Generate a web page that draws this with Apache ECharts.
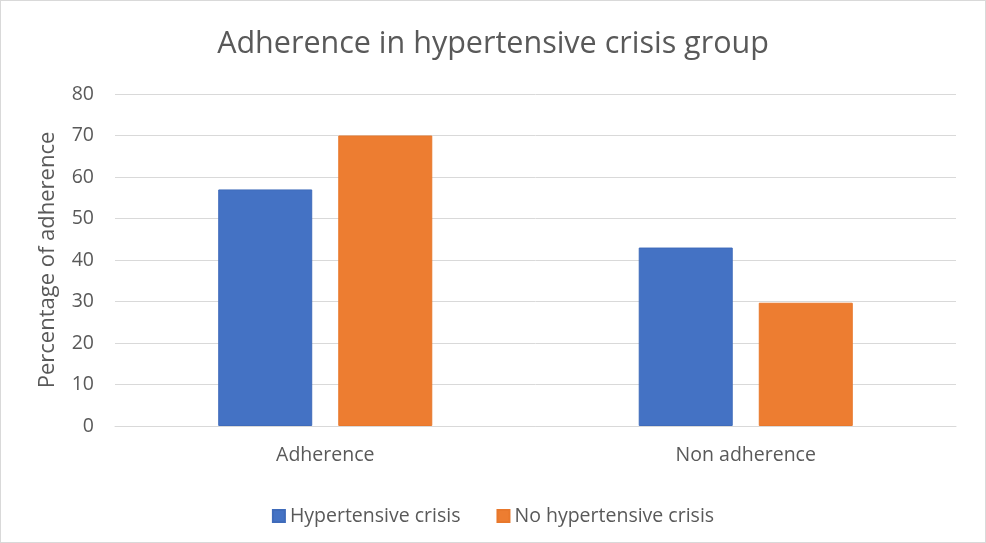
<!DOCTYPE html>
<html>
<head>
<meta charset="utf-8">
<script src="https://cdn.jsdelivr.net/npm/echarts@6/dist/echarts.min.js"></script>
<style>
html,body{margin:0;padding:0;background:#fff;}
#c{width:986px;height:543px;box-sizing:border-box;border:1px solid #d9d9d9;}
</style>
</head>
<body>
<div id="c"></div>
<script>
const categories = ['Adherence', 'Non adherence'];
const seriesNames = ['Hypertensive crisis', 'No hypertensive crisis'];
const hypertensiveCrisis = [57, 43];
const noHypertensiveCrisis = [70, 29.7];
const yTicks = [0, 10, 20, 30, 40, 50, 60, 70, 80];

const FONT = 'Open Sans';
const TXT = '#595959';
const chart = echarts.init(document.getElementById('c'), null, {renderer: 'canvas'});
chart.setOption({
  animation: false,
  title: {
    text: 'Adherence in hypertensive crisis group',
    left: 'center', top: 23,
    textStyle: {fontFamily: FONT, fontSize: 30.5, fontWeight: 'normal', color: TXT}
  },
  legend: {
    data: seriesNames,
    bottom: 11, left: 'center',
    itemWidth: 12, itemHeight: 12, itemGap: 36,
    icon: 'rect',
    textStyle: {fontFamily: FONT, fontSize: 19.5, color: TXT}
  },
  grid: {left: 114, right: 29, top: 93, bottom: 116, containLabel: false},
  xAxis: {
    type: 'category',
    data: categories,
    axisLine: {lineStyle: {color: '#d9d9d9', width: 1}},
    axisTick: {show: false},
    axisLabel: {fontFamily: FONT, fontSize: 19.5, color: TXT, margin: 19}
  },
  yAxis: {
    type: 'value',
    min: yTicks[0], max: yTicks[yTicks.length - 1], interval: 10,
    name: 'Percentage of adherence',
    nameLocation: 'middle', nameGap: 56,
    nameTextStyle: {fontFamily: FONT, fontSize: 22, color: TXT},
    axisLine: {show: false},
    axisTick: {show: false},
    splitLine: {lineStyle: {color: '#d9d9d9', width: 1}},
    axisLabel: {fontFamily: FONT, fontSize: 19.5, color: TXT, margin: 21}
  },
  series: [
    {
      name: seriesNames[0], type: 'bar', data: hypertensiveCrisis,
      barWidth: 94, barGap: '27.7%',
      itemStyle: {color: '#4472c4', borderColor: '#3f6bba', borderWidth: 1}
    },
    {
      name: seriesNames[1], type: 'bar', data: noHypertensiveCrisis,
      barWidth: 94,
      itemStyle: {color: '#ed7d31', borderColor: '#e8782c', borderWidth: 1}
    }
  ]
});
</script>
</body>
</html>
